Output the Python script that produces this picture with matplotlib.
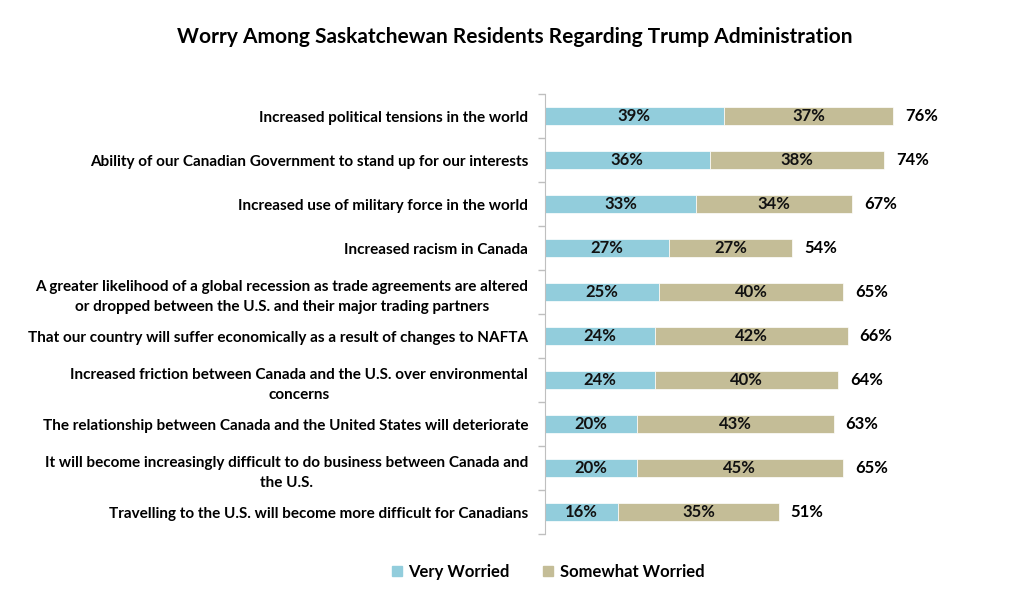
import numpy as np
import matplotlib
matplotlib.use("Agg")
import matplotlib.pyplot as plt
from matplotlib.patches import Patch

plt.rcParams['font.family'] = ['Lato', 'DejaVu Sans']

categories = [
    "Increased political tensions in the world",
    "Ability of our Canadian Government to stand up for our interests",
    "Increased use of military force in the world",
    "Increased racism in Canada",
    "A greater likelihood of a global recession as trade agreements are altered\nor dropped between the U.S. and their major trading partners",
    "That our country will suffer economically as a result of changes to NAFTA",
    "Increased friction between Canada and the U.S. over environmental\nconcerns",
    "The relationship between Canada and the United States will deteriorate",
    "It will become increasingly difficult to do business between Canada and\nthe U.S.",
    "Travelling to the U.S. will become more difficult for Canadians",
]
very = [39, 36, 33, 27, 25, 24, 24, 20, 20, 16]
somewhat = [37, 38, 34, 27, 40, 42, 40, 43, 45, 35]
totals = [76, 74, 67, 54, 65, 66, 64, 63, 65, 51]

C_VERY = "#92CDDC"
C_SOME = "#C4BD97"

fig = plt.figure(figsize=(10.24, 6.07), dpi=100)
ax = fig.add_axes([0.532, 0.120, 0.448, 0.725])

y = np.arange(len(categories))
ax.barh(y, very, height=0.42, color=C_VERY, edgecolor="white", linewidth=0.5)
ax.barh(y, somewhat, left=very, height=0.42, color=C_SOME, edgecolor="white", linewidth=0.5)

for i in range(len(categories)):
    ax.text(very[i] / 2, i, f"{very[i]}%", ha="center", va="center",
            fontsize=12, fontweight="bold", color="#111111")
    ax.text(very[i] + somewhat[i] / 2, i, f"{somewhat[i]}%", ha="center", va="center",
            fontsize=12, fontweight="bold", color="#111111")
    ax.text(totals[i] + 2.6, i, f"{totals[i]}%", ha="left", va="center",
            fontsize=12, fontweight="bold", color="black")

ax.set_xlim(0, 100)
ax.set_ylim(len(categories) - 0.5, -0.5)
ax.set_xticks([])
ax.set_yticks(y)
ax.set_yticklabels(categories, fontsize=11, fontweight="bold", multialignment="center",
                   linespacing=1.55)
ax.tick_params(axis="y", which="major", length=0, pad=12)
ax.set_yticks(np.arange(-0.5, len(categories)), minor=True)
ax.tick_params(axis="y", which="minor", length=5, color="#BFBFBF", width=1)

for s in ["top", "right", "bottom"]:
    ax.spines[s].set_visible(False)
ax.spines["left"].set_color("#BFBFBF")

fig.suptitle("Worry Among Saskatchewan Residents Regarding Trump Administration",
             x=0.503, y=0.955, fontsize=15, fontweight="bold")

handles = [Patch(color=C_VERY, label="Very Worried"),
           Patch(color=C_SOME, label="Somewhat Worried")]
fig.legend(handles=handles, loc="center", bbox_to_anchor=(0.535, 0.058), ncol=2,
           frameon=False, handlelength=0.6, handleheight=0.6,
           handletextpad=0.4, columnspacing=2.0,
           prop={"weight": "bold", "size": 12})

fig.savefig("out.png", dpi=100)
